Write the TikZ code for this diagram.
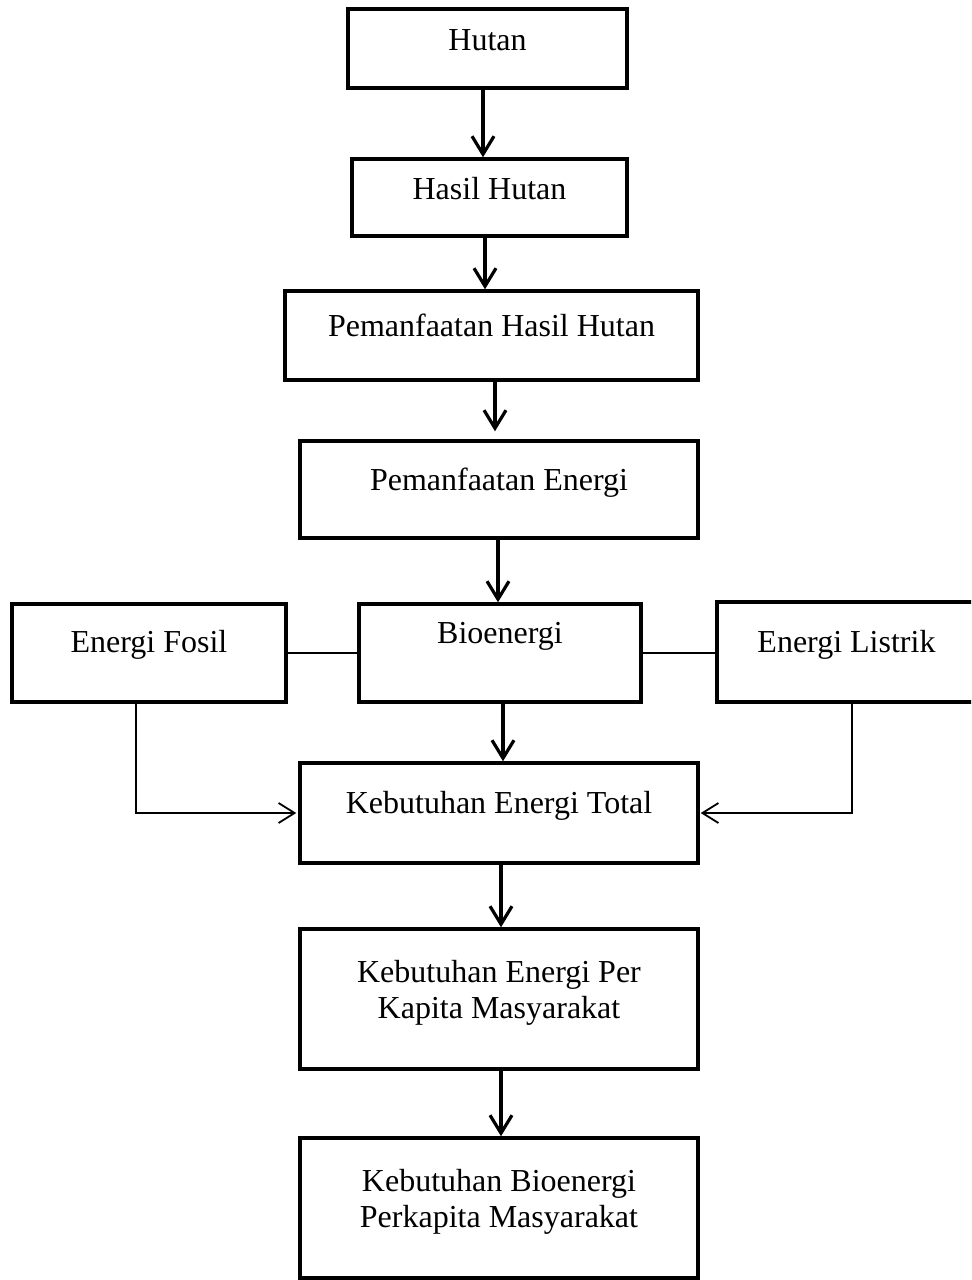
\documentclass[tikz,border=0pt]{standalone}
\usepackage{fontspec}
\setmainfont{Liberation Serif}
\usetikzlibrary{arrows.meta}
\newcommand\pxs{0.75pt}
\begin{document}
\begin{tikzpicture}[x=0.75pt,y=-0.75pt,
  box/.style={draw,line width=2.6pt,inner sep=0pt},
  txt/.style={anchor=base,inner sep=0pt,align=center,font=\fontsize{24pt}{27pt}\selectfont},
  arr/.style={line width=2.4pt,-{Straight Barb[length=13.5pt,width=16.5pt]}},
  thinarr/.style={line width=1.35pt,-{Straight Barb[length=12pt,width=15pt]}},
  plain/.style={line width=1.35pt}]
\useasboundingbox (0,0) rectangle (971,1280);
\begin{scope}
\clip (0,0) rectangle (971,1280);
% boxes
\node[box,minimum width=279*\pxs,minimum height=79*\pxs] (hutan) at (487.5,48.5) {};
\node[box,minimum width=275*\pxs,minimum height=77*\pxs] (hasil) at (489.5,197.5) {};
\node[box,minimum width=413*\pxs,minimum height=89*\pxs] (phh) at (491.5,335.5) {};
\node[box,minimum width=398*\pxs,minimum height=97*\pxs] (pe) at (499,489.5) {};
\node[box,minimum width=274*\pxs,minimum height=98*\pxs] (fosil) at (149,653) {};
\node[box,minimum width=282*\pxs,minimum height=98*\pxs] (bio) at (500,653) {};
\node[box,minimum width=259*\pxs,minimum height=100*\pxs] (listrik) at (846.5,652) {};
\node[box,minimum width=398*\pxs,minimum height=100*\pxs] (ket) at (499,813) {};
\node[box,minimum width=398*\pxs,minimum height=140*\pxs] (kepk) at (499,999) {};
\node[box,minimum width=398*\pxs,minimum height=140*\pxs] (kbpk) at (499,1208) {};
\end{scope}
% texts
\node[txt] (t1) at (487.5,51) {Hutan};
\node[txt] (t2) at (489.5,200) {Hasil Hutan};
\node[txt] (t3) at (491.5,336) {Pemanfaatan Hasil Hutan};
\node[txt] (t4) at (499,490) {Pemanfaatan Energi};
\node[txt] (t5) at (149,652) {Energi Fosil};
\node[txt] (t6) at (500,643) {Bioenergi};
\node[txt] (t7) at (846.5,652) {Energi Listrik};
\node[txt] (t8) at (499,813) {Kebutuhan Energi Total};
\node[txt] (t9) at (499,1018) {Kebutuhan Energi Per\\Kapita Masyarakat};
\node[txt] (t10) at (499,1227) {Kebutuhan Bioenergi\\Perkapita Masyarakat};
% connectors
\draw[arr] ([xshift=-4.5*\pxs]hutan.south) -- ([xshift=-4.5*\pxs]hutan.south |- hasil.north);
\draw[arr] ([xshift=-4.5*\pxs]hasil.south) -- ([xshift=-4.5*\pxs]hasil.south |- phh.north);
\draw[arr,shorten >=6pt] ([xshift=3.5*\pxs]phh.south) -- ([xshift=3.5*\pxs]phh.south |- pe.north);
\draw[arr] ([xshift=-1*\pxs]pe.south) -- ([xshift=-1*\pxs]pe.south |- bio.north);
\draw[arr] ([xshift=3*\pxs]bio.south) -- ([xshift=3*\pxs]bio.south |- ket.north);
\draw[arr] ([xshift=2*\pxs]ket.south) -- ([xshift=2*\pxs]ket.south |- kepk.north);
\draw[arr] ([xshift=2*\pxs]kepk.south) -- ([xshift=2*\pxs]kepk.south |- kbpk.north);
\draw[plain] (fosil.east) -- (bio.west);
\draw[plain] (bio.east) -- (bio.east -| listrik.west);
\draw[thinarr] ([xshift=-13*\pxs]fosil.south) |- ([xshift=-2*\pxs]ket.west);
\draw[thinarr] ([xshift=5.5*\pxs]listrik.south) |- ([xshift=1*\pxs]ket.east);
\end{tikzpicture}
\end{document}
